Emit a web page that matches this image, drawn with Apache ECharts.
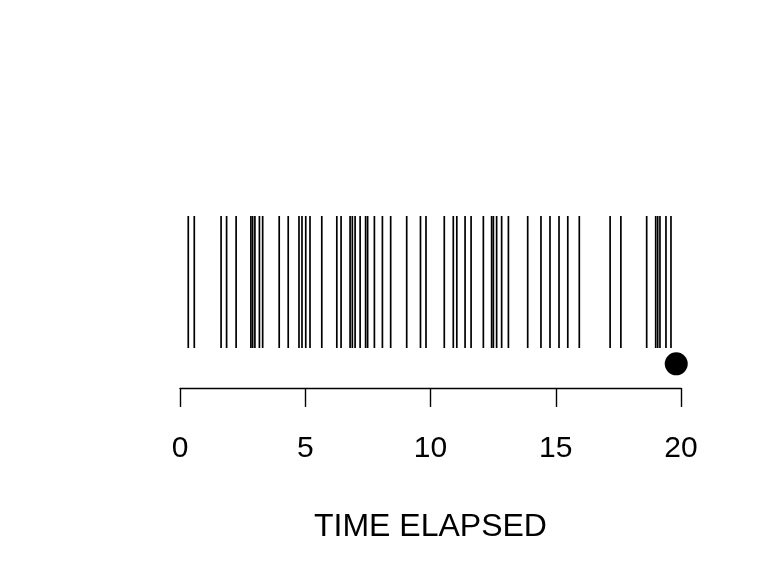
<!DOCTYPE html>
<html>
<head>
<meta charset="utf-8">
<script src="https://cdn.jsdelivr.net/npm/echarts@6/dist/echarts.min.js"></script>
<style>html,body{margin:0;padding:0;background:#fff}#c{width:784px;height:588px}</style>
</head>
<body>
<div id="c"></div>
<script>
// Event times (rug marks)
var eventTimes = [0.33, 0.57, 1.64, 1.86, 2.24, 2.83, 2.90, 2.99, 3.17, 3.30, 3.96, 4.32,
  4.75, 4.87, 5.02, 5.19, 5.66, 6.26, 6.43, 6.79, 6.88, 6.99, 7.19, 7.41, 7.49, 7.76,
  8.08, 8.41, 9.05, 9.60, 9.82, 10.55, 10.91, 11.05, 11.38, 11.62, 12.11, 12.44, 12.51,
  12.64, 12.84, 13.11, 13.88, 14.41, 14.77, 15.13, 15.48, 15.94, 17.17, 17.60, 18.63,
  18.99, 19.07, 19.16, 19.40, 19.60];
// End of observation (filled dot)
var endTimes = [19.81];
// Axis ticks
var tickValues = [0, 5, 10, 15, 20];
var axisTitle = 'TIME ELAPSED';

var FONT = 'Liberation Sans, Arial, Helvetica, sans-serif';
var LINE_LOW = 0.2326, LINE_HIGH = 1.0, DOT_Y = 0.1407;

var chart = echarts.init(document.getElementById('c'), null, {renderer: 'canvas'});
chart.setOption({
  animation: false,
  backgroundColor: '#ffffff',
  grid: {left: 180, right: 103, top: 216, bottom: 200},
  xAxis: {
    type: 'value',
    min: tickValues[0],
    max: tickValues[tickValues.length - 1],
    interval: tickValues[1] - tickValues[0],
    splitLine: {show: false},
    axisLine: {show: true, lineStyle: {color: '#000', width: 1.4}},
    axisTick: {show: true, inside: false, length: 19, lineStyle: {color: '#000', width: 1.4}},
    axisLabel: {color: '#000', fontSize: 30, fontFamily: FONT, margin: 46},
    name: axisTitle,
    nameLocation: 'middle',
    nameGap: 123,
    nameTextStyle: {color: '#000', fontSize: 32, fontFamily: FONT}
  },
  yAxis: {
    type: 'value', min: 0, max: 1, show: false,
    splitLine: {show: false}
  },
  series: [
    {
      type: 'custom',
      data: eventTimes.map(function (t) { return [t]; }),
      encode: {x: 0},
      renderItem: function (params, api) {
        var t = api.value(0);
        var p1 = api.coord([t, LINE_LOW]);
        var p2 = api.coord([t, LINE_HIGH]);
        return {
          type: 'line',
          shape: {x1: p1[0], y1: p1[1], x2: p2[0], y2: p2[1]},
          style: {stroke: '#000', lineWidth: 1.7}
        };
      }
    },
    {
      type: 'scatter',
      data: endTimes.map(function (t) { return [t, DOT_Y]; }),
      symbol: 'circle',
      symbolSize: 23,
      itemStyle: {color: '#000', opacity: 1}
    }
  ]
});
</script>
</body>
</html>
